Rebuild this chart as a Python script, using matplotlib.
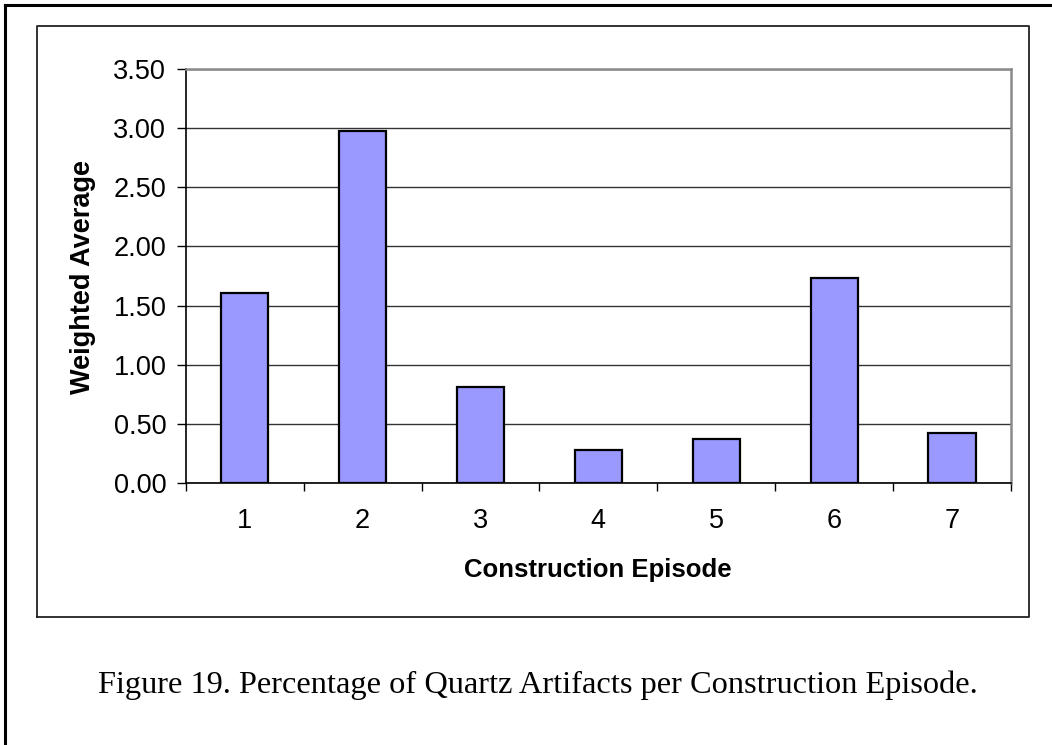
import matplotlib
matplotlib.use("Agg")
import matplotlib.pyplot as plt
from matplotlib.lines import Line2D

episodes = ["1", "2", "3", "4", "5", "6", "7"]
weighted_avg = [1.61, 2.98, 0.81, 0.28, 0.37, 1.73, 0.42]
y_ticks = [0.0, 0.5, 1.0, 1.5, 2.0, 2.5, 3.0, 3.5]
y_tick_labels = ["0.00", "0.50", "1.00", "1.50", "2.00", "2.50", "3.00", "3.50"]
x_title = "Construction Episode"
y_title = "Weighted Average"
caption = "Figure 19. Percentage of Quartz Artifacts per Construction Episode."

W, H = 1052, 745
fig = plt.figure(figsize=(W / 100, H / 100), dpi=100)
fig.patch.set_facecolor("white")

def fx(px):
    return px / W

def fy(py):
    return 1 - py / H

# outer page border (top and left only)
fig.add_artist(Line2D([fx(5), fx(1052)], [fy(5), fy(5)], color="black", lw=2.2, transform=fig.transFigure))
fig.add_artist(Line2D([fx(5), fx(5)], [fy(5), fy(745)], color="black", lw=2.2, transform=fig.transFigure))

# chart area box
bx0, bx1, by0, by1 = fx(36.7), fx(1029), fy(616.7), fy(25.7)
fig.add_artist(Line2D([bx0, bx1, bx1, bx0, bx0], [by0, by0, by1, by1, by0],
                      color="#222222", lw=1.3, transform=fig.transFigure))

ax = fig.add_axes([fx(185.7), fy(482.7), fx(1011) - fx(185.7), fy(69.3) - fy(482.7)])
x = list(range(1, len(episodes) + 1))
ax.bar(x, weighted_avg, width=0.4, color="#9999FF", edgecolor="black", linewidth=1.6, zorder=3)

ax.set_xlim(0.5, len(episodes) + 0.5)
ax.set_ylim(0, 3.5)
ax.set_yticks(y_ticks)
ax.set_yticklabels(y_tick_labels, fontsize=19.5, family="Liberation Sans")
ax.yaxis.grid(True, color="#333333", lw=1.0, zorder=0)
ax.set_axisbelow(True)

ax.set_xticks([i + 0.5 for i in range(0, len(episodes) + 1)])
ax.set_xticklabels([])
ax.set_xticks(x, minor=True)
ax.set_xticklabels(episodes, minor=True, fontsize=19.5, family="Liberation Sans")
ax.tick_params(axis="x", which="major", direction="out", length=6, width=1.0, color="black")
ax.tick_params(axis="x", which="minor", length=0, pad=18)
ax.tick_params(axis="y", direction="out", length=6.5, width=1.0, pad=7.5, color="black")

for s in ["left", "bottom"]:
    ax.spines[s].set_color("black")
    ax.spines[s].set_linewidth(1.2)
for s in ["top", "right"]:
    ax.spines[s].set_color("#8a8a8a")
    ax.spines[s].set_linewidth(1.8)

fig.text(fx(83), fy(277), y_title, rotation=90, ha="center", va="center",
         fontsize=19.5, fontweight="bold", family="Liberation Sans")
fig.text(fx(598), fy(577), x_title, ha="center", va="baseline",
         fontsize=18.5, fontweight="bold", family="Liberation Sans")
fig.text(fx(538), fy(693), caption, ha="center", va="baseline",
         fontsize=23.3, family="Liberation Serif")

fig.savefig("out.png", dpi=100, facecolor="white")
